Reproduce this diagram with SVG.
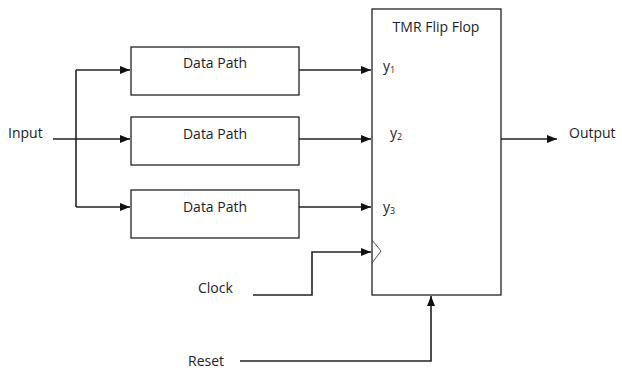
<svg xmlns="http://www.w3.org/2000/svg" width="622" height="372" viewBox="0 0 622 372">
<style>
text{font-family:"Open Sans","Liberation Sans",Arial,sans-serif;font-size:14px;fill:#1c1c2a}
.box{fill:#fff;stroke:#222;stroke-width:1.3}
.ln{fill:none;stroke:#222;stroke-width:1.6}
.sub{font-size:9px}
</style>
<defs>
<marker id="ah" markerWidth="10" markerHeight="8" refX="10" refY="4" orient="auto" markerUnits="userSpaceOnUse">
<path d="M0,0 L10,4 L0,8 Z" fill="#111"/>
</marker>
</defs>
<rect width="622" height="372" fill="#fff"/>
<g id="dp1"><rect class="box" x="131" y="47" width="168" height="48"/><text x="215" y="68" text-anchor="middle">Data Path</text></g>
<g id="dp2"><rect class="box" x="131" y="117" width="168" height="48"/><text x="215" y="139" text-anchor="middle">Data Path</text></g>
<g id="dp3"><rect class="box" x="131" y="190" width="168" height="48"/><text x="215" y="212" text-anchor="middle">Data Path</text></g>
<g id="tmr">
<rect class="box" x="372" y="9" width="129" height="286"/>
<text x="436" y="32" text-anchor="middle">TMR Flip Flop</text>
<text x="383" y="71">y<tspan class="sub" dy="2">1</tspan></text>
<text x="390" y="138">y<tspan class="sub" dy="2">2</tspan></text>
<text x="383" y="212">y<tspan class="sub" dy="2">3</tspan></text>
<path d="M372,240 L381,251 L372,263" fill="none" stroke="#555" stroke-width="1"/>
</g>
<g id="labels">
<text x="8" y="138">Input</text>
<text x="569" y="138">Output</text>
<text x="198" y="293">Clock</text>
<text x="188" y="366">Reset</text>
</g>
<g id="connectors">
<path class="ln" d="M53,139 L130,139" marker-end="url(#ah)"/>
<path class="ln" d="M76,70 L76,207"/>
<path class="ln" d="M76,70 L130,70" marker-end="url(#ah)"/>
<path class="ln" d="M76,207 L130,207" marker-end="url(#ah)"/>
<path class="ln" d="M299,70 L371,70" marker-end="url(#ah)"/>
<path class="ln" d="M299,139 L371,139" marker-end="url(#ah)"/>
<path class="ln" d="M299,207 L371,207" marker-end="url(#ah)"/>
<path class="ln" d="M501,139 L557,139" marker-end="url(#ah)"/>
<path class="ln" d="M253,295 L312,295 L312,252 L371,252" marker-end="url(#ah)"/>
<path class="ln" d="M240,361 L431,361 L431,296" marker-end="url(#ah)"/>
</g>
</svg>
